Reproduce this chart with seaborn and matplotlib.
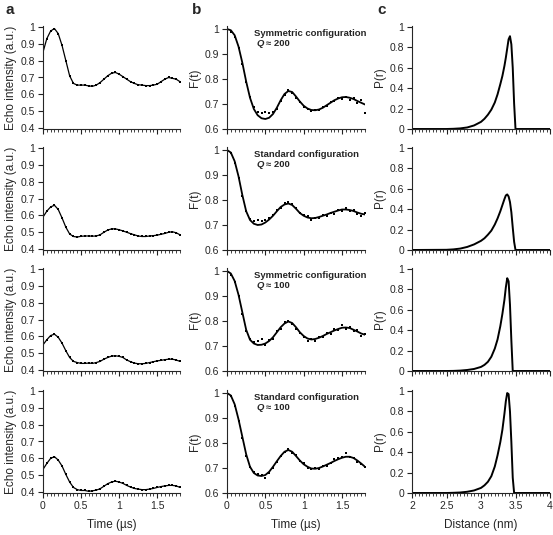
import numpy as np
import pandas as pd
import seaborn as sns
import matplotlib.pyplot as plt
from matplotlib.ticker import MultipleLocator

# time axis (µs) used for panels a and b
time_us = [0.0, 0.05, 0.1, 0.15, 0.2, 0.25, 0.3, 0.35, 0.4, 0.45, 0.5, 0.55, 0.6, 0.65, 0.7, 0.75,
           0.8, 0.85, 0.9, 0.95, 1.0, 1.05, 1.1, 1.15, 1.2, 1.25, 1.3, 1.35, 1.4, 1.45, 1.5, 1.55,
           1.6, 1.65, 1.7, 1.75, 1.8]

# panel a: raw echo intensity
echo_1 = [.85, .93, .975, .99, .96, .89, .80, .71, .665, .655, .655, .655, .65, .648, .655, .67,
          .69, .71, .725, .73, .72, .705, .69, .675, .665, .657, .655, .652, .652, .655, .66, .675,
          .69, .70, .695, .69, .675]
echo_2 = [.59, .625, .65, .66, .635, .585, .53, .49, .475, .472, .476, .478, .478, .477, .478, .485,
          .50, .513, .52, .52, .515, .508, .50, .492, .485, .478, .475, .475, .478, .48, .483, .488,
          .493, .50, .503, .497, .485]
echo_3 = [.55, .58, .605, .613, .595, .56, .515, .475, .452, .445, .44, .44, .442, .44, .445, .452,
          .465, .475, .483, .485, .482, .475, .46, .45, .442, .438, .438, .44, .445, .45, .455, .458,
          .462, .465, .465, .46, .452]
echo_4 = [.535, .57, .60, .61, .59, .555, .505, .46, .428, .415, .41, .41, .405, .408, .412, .42,
          .435, .45, .46, .465, .46, .452, .44, .43, .422, .418, .415, .415, .418, .422, .428, .433,
          .437, .44, .44, .437, .428]

# panel b: normalised form factor F(t), data and fit
ft_data_1 = [1.0, .99, .97, .925, .86, .79, .73, .69, .668, .665, .668, .664, .668, .68, .712, .738,
             .755, .745, .725, .71, .69, .68, .672, .678, .675, .688, .692, .708, .712, .725, .72, .73,
             .718, .725, .705, .715, .665]
ft_fit_1 = [1.0, .995, .975, .93, .865, .79, .725, .68, .655, .643, .64, .645, .66, .685, .715, .74,
            .752, .748, .73, .71, .693, .682, .676, .675, .678, .685, .695, .705, .715, .722, .727, .728,
            .725, .72, .712, .705, .698]
ft_data_2 = [1.01, .99, .95, .89, .815, .755, .725, .715, .72, .718, .722, .728, .74, .76, .77, .79,
             .792, .785, .768, .75, .74, .735, .72, .728, .73, .74, .738, .75, .745, .762, .758, .77,
             .755, .76, .745, .738, .748]
ft_fit_2 = [1.0, .99, .955, .895, .82, .755, .72, .705, .70, .702, .71, .722, .737, .755, .772, .782,
            .786, .78, .765, .748, .737, .73, .727, .728, .732, .737, .742, .748, .753, .758, .762, .762,
            .76, .756, .75, .745, .742]
ft_data_3 = [1.0, .985, .955, .90, .83, .76, .73, .715, .72, .73, .705, .725, .73, .76, .77, .795,
             .80, .79, .77, .752, .735, .72, .73, .72, .738, .735, .752, .75, .77, .765, .785, .77,
             .775, .76, .765, .74, .75]
ft_fit_3 = [1.0, .99, .96, .905, .835, .765, .725, .71, .704, .705, .71, .72, .735, .755, .775, .79,
            .798, .792, .775, .755, .74, .73, .726, .728, .733, .74, .748, .755, .762, .768, .773, .774,
            .772, .765, .758, .75, .745]
ft_data_4 = [1.0, .99, .95, .89, .82, .75, .705, .685, .675, .672, .66, .68, .70, .725, .75, .765,
             .775, .76, .752, .728, .72, .70, .695, .70, .695, .71, .71, .72, .735, .74, .745, .76,
             .745, .742, .725, .718, .705]
ft_fit_4 = [1.0, .99, .955, .895, .825, .755, .705, .68, .67, .668, .672, .685, .705, .727, .748, .765,
            .772, .765, .748, .73, .715, .705, .698, .697, .70, .706, .713, .72, .728, .735, .741, .745,
            .745, .74, .73, .718, .705]

# panel c: distance distributions
dist_nm = [2.0, 2.5, 2.6, 2.7, 2.8, 2.9, 3.0, 3.05, 3.1, 3.15, 3.2, 3.24, 3.28, 3.31, 3.34, 3.36,
           3.38, 3.40, 3.42, 3.44, 3.46, 3.48, 3.5, 4.0]
pr_1 = [0, 0, .002, .006, .015, .035, .07, .10, .14, .19, .26, .34, .44, .52, .62, .70,
        .79, .88, .91, .83, .60, .25, 0, 0]
pr_2 = [0, .002, .006, .014, .03, .055, .09, .115, .15, .19, .25, .31, .38, .44, .50, .535,
        .545, .525, .47, .37, .22, .08, 0, 0]
pr_3 = [0, 0, .001, .004, .01, .02, .04, .06, .09, .14, .22, .31, .44, .56, .70, .82,
        .91, .88, .65, .30, 0, 0, 0, 0]
pr_4 = [0, 0, .002, .005, .012, .025, .05, .075, .11, .165, .26, .37, .50, .62, .78, .90,
        .98, .97, .80, .50, .15, 0, 0, 0]

echo_rows = [echo_1, echo_2, echo_3, echo_4]
ft_rows = [(ft_data_1, ft_fit_1), (ft_data_2, ft_fit_2), (ft_data_3, ft_fit_3), (ft_data_4, ft_fit_4)]
pr_rows = [pr_1, pr_2, pr_3, pr_4]
configs = ['Symmetric configuration', 'Standard configuration',
           'Symmetric configuration', 'Standard configuration']
q_values = ['200', '200', '100', '100']

sns.set_style('ticks')
plt.rcParams['font.family'] = ['Liberation Sans', 'DejaVu Sans']
plt.rcParams['axes.linewidth'] = 0.8

fig = plt.figure(figsize=(5.53, 5.35), dpi=100)

W, H = 553, 535
col_left = [43, 227, 412]
col_width = [137, 138, 138]
row_top = [26, 147, 268, 390]
ax_h = 103


def style_axis(ax, bottom_row):
    sns.despine(ax=ax)
    ax.xaxis.set_minor_locator(MultipleLocator(0.05))
    ax.tick_params(which='major', direction='out', length=3.5, width=0.8, labelsize=7.5,
                   color='#222222', pad=2)
    ax.tick_params(which='minor', direction='out', length=1.8, width=0.6, color='#222222')
    ax.tick_params(axis='y', which='minor', left=False)
    if not bottom_row:
        ax.tick_params(axis='x', labelbottom=False)
    ax.set_xlabel('')


def fmt(v):
    s = ('%.1f' % v).rstrip('0').rstrip('.')
    return s


for i in range(4):
    bottom = 1 - (row_top[i] + ax_h) / H
    axes = []
    for j in range(3):
        ax = fig.add_axes([col_left[j] / W, bottom, col_width[j] / W, ax_h / H])
        axes.append(ax)
    ax_a, ax_b, ax_c = axes
    last = i == 3

    # a: echo intensity
    sns.lineplot(x=time_us, y=echo_rows[i], ax=ax_a, color='black', lw=0.9,
                 marker='s', markersize=2.1, markeredgewidth=0)
    ax_a.set_xlim(0, 1.8)
    ax_a.set_ylim(0.395, 1.005)
    ax_a.set_yticks([0.4, 0.5, 0.6, 0.7, 0.8, 0.9, 1.0])
    ax_a.set_yticklabels([fmt(v) for v in [0.4, 0.5, 0.6, 0.7, 0.8, 0.9, 1.0]])
    ax_a.set_xticks([0, 0.5, 1, 1.5])
    ax_a.set_xticklabels(['0', '0.5', '1', '1.5'])
    style_axis(ax_a, last)
    ax_a.set_ylabel('Echo intensity (a.u.)', fontsize=8.5, labelpad=3)

    # b: F(t) data and fit
    data, fit = ft_rows[i]
    sns.scatterplot(x=time_us, y=data, ax=ax_b, color='black', s=3.5, marker='s', linewidth=0)
    sns.lineplot(x=time_us, y=fit, ax=ax_b, color='black', lw=1.3)
    ax_b.set_xlim(0, 1.8)
    ax_b.set_ylim(0.6, 1.012)
    ax_b.set_yticks([0.6, 0.7, 0.8, 0.9, 1.0])
    ax_b.set_yticklabels([fmt(v) for v in [0.6, 0.7, 0.8, 0.9, 1.0]])
    ax_b.set_xticks([0, 0.5, 1, 1.5])
    ax_b.set_xticklabels(['0', '0.5', '1', '1.5'])
    style_axis(ax_b, last)
    ax_b.set_ylabel('F(t)', fontsize=8.5, labelpad=3)
    ax_b.text(0.195, 0.93, configs[i], transform=ax_b.transAxes, fontsize=6.8,
              fontweight='bold', va='center', ha='left')
    ax_b.text(0.215, 0.83, 'Q', transform=ax_b.transAxes, fontsize=6.8,
              fontweight='bold', style='italic', va='center', ha='left')
    ax_b.text(0.28, 0.83, '\u2248 ' + q_values[i], transform=ax_b.transAxes, fontsize=6.8,
              fontweight='bold', va='center', ha='left')

    # c: distance distribution
    sns.lineplot(x=dist_nm, y=pr_rows[i], ax=ax_c, color='black', lw=1.4)
    ax_c.set_xlim(2, 4)
    ax_c.set_ylim(0, 1.01)
    ax_c.set_yticks([0, 0.2, 0.4, 0.6, 0.8, 1.0])
    ax_c.set_yticklabels(['0', '0.2', '0.4', '0.6', '0.8', '1'])
    ax_c.set_xticks([2, 2.5, 3, 3.5, 4])
    ax_c.set_xticklabels(['2', '2.5', '3', '3.5', '4'])
    style_axis(ax_c, last)
    ax_c.set_ylabel('P(r)', fontsize=8.5, labelpad=3)

    if last:
        ax_a.set_xlabel('Time (\u00b5s)', fontsize=8.5, labelpad=6)
        ax_b.set_xlabel('Time (\u00b5s)', fontsize=8.5, labelpad=6)
        ax_c.set_xlabel('Distance (nm)', fontsize=8.5, labelpad=6)

for letter, xpx in zip(['a', 'b', 'c'], [5, 192, 377]):
    fig.text(xpx / W, 1 - 10 / H, letter, fontsize=11, fontweight='bold', va='center', ha='left')

fig.savefig('out.png', dpi=100, facecolor='white')
